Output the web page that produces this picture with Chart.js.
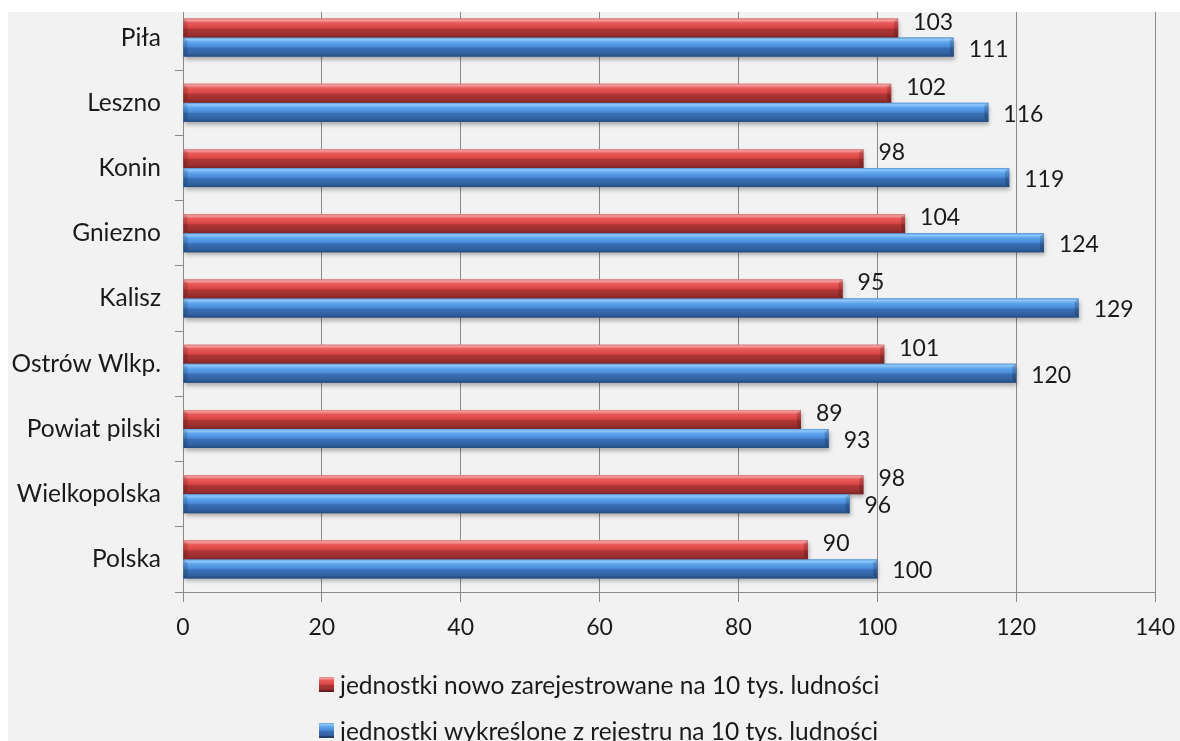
<!DOCTYPE html>
<html>
<head>
<meta charset="utf-8">
<script src="https://cdn.jsdelivr.net/npm/chart.js@4.4.1/dist/chart.umd.min.js"></script>
<style>
html,body{margin:0;padding:0;background:#fff;}
#wrap{width:1180px;height:741px;position:relative;overflow:hidden;}
canvas{display:block;}
</style>
</head>
<body>
<div id="wrap"><canvas id="c" width="1180" height="741"></canvas></div>
<script>
const categories = ['Piła', 'Leszno', 'Konin', 'Gniezno', 'Kalisz', 'Ostrów Wlkp.', 'Powiat pilski', 'Wielkopolska', 'Polska'];
const registered = [103, 102, 98, 104, 95, 101, 89, 98, 90];
const removed = [111, 116, 119, 124, 129, 120, 93, 96, 100];
const seriesNames = ['jednostki nowo zarejestrowane na 10 tys. ludności', 'jednostki wykreślone z rejestru na 10 tys. ludności'];
const xMin = 0, xMax = 140, xStep = 20;

const FONT = 'Lato, "Open Sans", sans-serif';
const TEXT = '#1a1a1a';
const GRID = '#8a8a8a';
const BG = '#f2f2f2';

const stops = [
  [[0, '#e08585'], [0.1, '#f49a9a'], [0.22, '#ea5a5a'], [0.48, '#d94545'], [0.55, '#b03636'], [0.85, '#9a2e2e'], [1, '#7a2424']],
  [[0, '#5a98dc'], [0.1, '#8ec8fc'], [0.25, '#5ea4ec'], [0.48, '#4a8ad8'], [0.55, '#3a70b8'], [0.85, '#30609f'], [1, '#24497c']]
];
const solid = ['#c94040', '#4a86d0'];

function grad(ctx, y0, y1, s) {
  const g = ctx.createLinearGradient(0, y0, 0, y1);
  s.forEach(([o, c]) => g.addColorStop(o, c));
  return g;
}

const bgPlugin = {
  id: 'bg',
  beforeDraw(chart) {
    const ctx = chart.ctx;
    ctx.save();
    ctx.fillStyle = '#fff';
    ctx.fillRect(0, 0, chart.width, chart.height);
    ctx.fillStyle = BG;
    ctx.fillRect(8, 12, chart.width - 8, chart.height - 12);
    ctx.restore();
  }
};

const barStylePlugin = {
  id: 'barStyle',
  afterDatasetsDraw(chart) {
    const ctx = chart.ctx;
    ctx.save();
    chart.data.datasets.forEach((ds, di) => {
      const meta = chart.getDatasetMeta(di);
      meta.data.forEach((el) => {
        const h = el.height;
        const y0 = el.y - h / 2, y1 = el.y + h / 2;
        const x0 = el.base, x1 = el.x;
        ctx.save();
        ctx.shadowColor = 'rgba(0,0,0,0.28)';
        ctx.shadowBlur = 4;
        ctx.shadowOffsetY = 3;
        ctx.shadowOffsetX = 1;
        ctx.fillStyle = grad(ctx, y0, y1, stops[di]);
        ctx.fillRect(x0, y0, x1 - x0, h);
        ctx.restore();
        ctx.fillStyle = 'rgba(0,0,0,0.18)';
        ctx.beginPath();
        ctx.moveTo(x1 - 4, y0 + 3);
        ctx.lineTo(x1, y0);
        ctx.lineTo(x1, y1);
        ctx.lineTo(x1 - 4, y1 - 3);
        ctx.closePath();
        ctx.fill();
        ctx.fillStyle = 'rgba(0,0,0,0.15)';
        ctx.beginPath();
        ctx.moveTo(x0, y0);
        ctx.lineTo(x0 + 4, y0 + 3);
        ctx.lineTo(x0 + 4, y1 - 3);
        ctx.lineTo(x0, y1);
        ctx.closePath();
        ctx.fill();
      });
    });
    ctx.font = '23px ' + FONT;
    ctx.fillStyle = TEXT;
    ctx.textAlign = 'left';
    ctx.textBaseline = 'middle';
    const dy = [-6, 2];
    chart.data.datasets.forEach((ds, di) => {
      const meta = chart.getDatasetMeta(di);
      meta.data.forEach((el, i) => {
        ctx.fillText(String(ds.data[i]), el.x + 15, el.y + dy[di]);
      });
    });
    ctx.restore();
  }
};

const overlayPlugin = {
  id: 'overlay',
  afterDraw(chart) {
    const ctx = chart.ctx;
    ctx.save();
    ctx.fillStyle = '#fff';
    ctx.fillRect(0, 0, chart.width, 12);
    ctx.fillRect(0, 0, 8, chart.height);
    ctx.font = '24.5px ' + FONT;
    ctx.textAlign = 'left';
    ctx.textBaseline = 'middle';
    chart.data.datasets.forEach((ds, di) => {
      const y = 677 + di * 46;
      ctx.fillStyle = grad(ctx, y, y + 15, stops[di]);
      ctx.fillRect(319, y, 15, 15);
      ctx.fillStyle = 'rgba(0,0,0,0.25)';
      ctx.fillRect(319, y + 13, 15, 2);
      ctx.fillStyle = TEXT;
      ctx.fillText(ds.label, 340, y + 9);
    });
    ctx.restore();
  }
};

new Chart(document.getElementById('c'), {
  type: 'bar',
  data: {
    labels: categories,
    datasets: [
      { label: seriesNames[0], data: registered, backgroundColor: solid[0], borderWidth: 0 },
      { label: seriesNames[1], data: removed, backgroundColor: solid[1], borderWidth: 0 }
    ]
  },
  options: {
    indexAxis: 'y',
    responsive: false,
    animation: false,
    devicePixelRatio: 1,
    categoryPercentage: 0.583,
    barPercentage: 1,
    layout: { padding: { top: 5, right: 25, left: 0, bottom: 0 } },
    plugins: { legend: { display: false }, tooltip: { enabled: false } },
    scales: {
      x: {
        min: xMin, max: xMax,
        ticks: { stepSize: xStep, color: TEXT, font: { family: FONT, size: 23 }, padding: 12 },
        grid: { color: GRID, tickLength: 10, tickColor: GRID },
        border: { color: GRID },
        afterFit(s) { s.height = 741 - 592; s.paddingLeft = 0; s.paddingRight = 0; }
      },
      y: {
        ticks: { color: TEXT, font: { family: FONT, size: 24.5 }, padding: 14 },
        grid: { drawOnChartArea: false, tickLength: 8, tickColor: GRID, offset: true },
        border: { color: GRID },
        afterFit(s) { s.width = 183; s.paddingTop = 0; s.paddingBottom = 0; }
      }
    }
  },
  plugins: [bgPlugin, barStylePlugin, overlayPlugin]
});
</script>
</body>
</html>
